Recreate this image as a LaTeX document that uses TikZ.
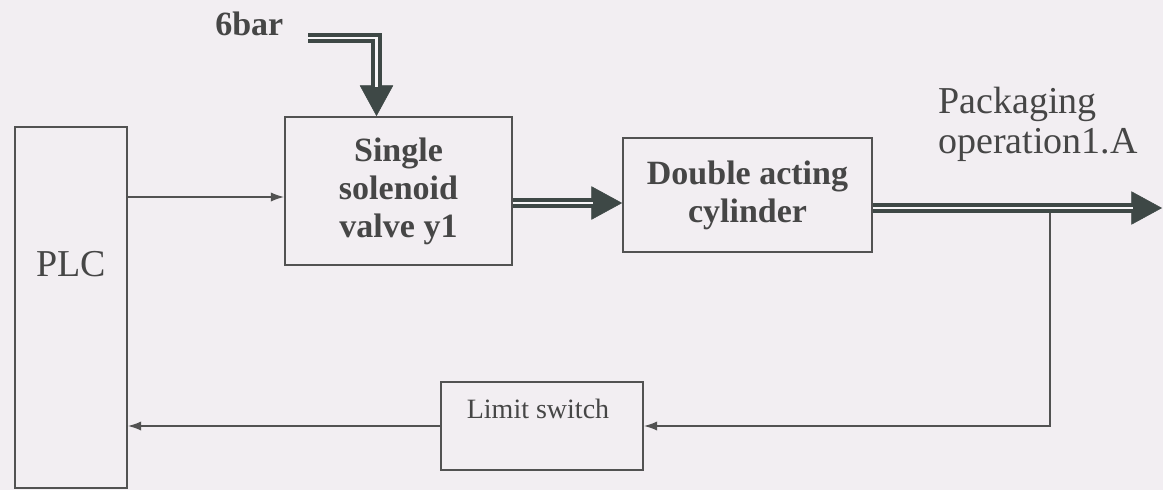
\documentclass[tikz,border=0pt]{standalone}
\usepackage{fontspec}
\setmainfont{Liberation Serif}
\usetikzlibrary{arrows.meta,calc}
\definecolor{bg}{RGB}{242,238,242}
\definecolor{ink}{RGB}{82,82,82}
\definecolor{txt}{RGB}{70,70,70}
\definecolor{pipec}{RGB}{62,72,70}
\begin{document}
\begin{tikzpicture}[x=0.75pt,y=-0.75pt,
  box/.style={draw=ink, line width=1.3pt, inner sep=0pt},
  txtbold/.style={font=\fontsize{25.5}{28.5}\selectfont\bfseries, text=txt, align=center, inner sep=0pt},
  txtreg/.style={font=\fontsize{28.5}{30}\selectfont, text=txt, inner sep=0pt},
  txtsmall/.style={font=\fontsize{21}{24}\selectfont, text=txt, inner sep=0pt},
  conn/.style={draw=ink, line width=1.2pt},
  arr/.style={conn, -{Latex[length=10pt,width=7pt]}},
  pipe/.style={draw=pipec, double=bg!50!white, line width=3pt, double distance=1.6pt},
  piptip/.style={draw=pipec, line width=0.4pt, -{Triangle[length=23pt,width=25pt,fill=pipec]}}
]
\fill[bg] (0,0) rectangle (1163,490);
\useasboundingbox (0,0) rectangle (1163,490);

% boxes
\node[box, minimum width=84pt, minimum height=270.75pt] (plc) at (71,307.5) {};
\node[txtreg] (plct) at (71,264.5) {PLC};
\node[box, txtbold, minimum width=170.25pt, minimum height=111pt] (valve) at (398.5,191) {Single\\solenoid\\valve y1};
\node[box, txtbold, minimum width=186.75pt, minimum height=85.5pt] (cyl) at (747.5,195) {Double acting\\cylinder};
\node[box, minimum width=151.5pt, minimum height=66pt] (limit) at (542,426) {};
\node[txtsmall, anchor=base] (limt) at (538,418) {Limit switch};
\node[txtbold, anchor=base west] (six) at (215,35) {6bar};
\node[txtreg, anchor=west, align=left] (pack) at (938,124) {Packaging\\operation1.A};

% coordinates
\coordinate (sixs) at (308,38);
\coordinate (vin) at ([xshift=-16.5pt]valve.north);
\coordinate (vo) at ([yshift=-9pt]valve.east);
\coordinate (co) at ([yshift=-9.75pt]cyl.east);
\coordinate (out) at (1162,208);
\coordinate (tap) at (1050,208);
\coordinate (pv) at ([yshift=-4.5pt]valve.west);

% thin signal lines
\draw[arr] (pv -| plc.east) -- (pv);
\draw[arr] (tap) |- (limit.east);
\draw[arr] (limit.west) -- (limit.west -| plc.east);

% pneumatic pipes
\draw[piptip] (sixs) -| (vin);
\draw[pipe, shorten >=22pt] (sixs) -| (vin);
\draw[piptip] (vo) -- (vo -| cyl.west);
\draw[pipe, shorten >=22pt] (vo) -- (vo -| cyl.west);
\draw[piptip] (co) -- (out);
\draw[pipe, shorten >=22pt] (co) -- (out);
\end{tikzpicture}
\end{document}
